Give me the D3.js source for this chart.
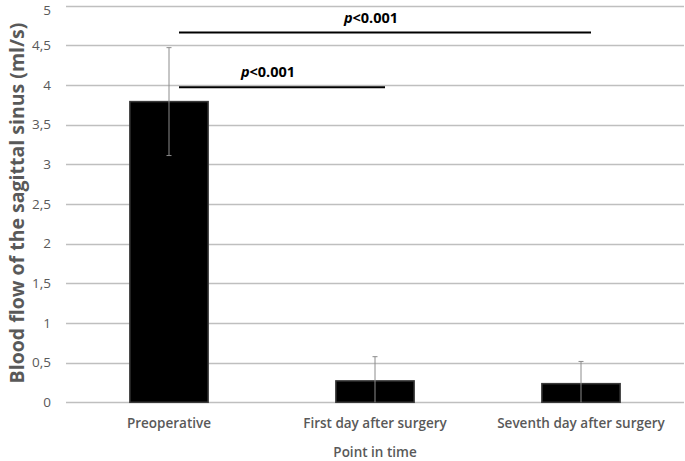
<!DOCTYPE html>
<html>
<head>
<meta charset="utf-8">
<script src="https://cdn.jsdelivr.net/npm/d3@7"></script>
<style>
  body { margin: 0; background: #fff; }
  text { font-family: "Open Sans", sans-serif; }
</style>
</head>
<body>
<svg id="chart" width="685" height="461"></svg>
<script>
var WIDTH = 685, HEIGHT = 461;

// data
var categories = ["Preoperative", "First day after surgery", "Seventh day after surgery"];
var means = [3.79, 0.27, 0.235];
var errors = [0.68, 0.305, 0.28];
var yTicks = [0, 0.5, 1, 1.5, 2, 2.5, 3, 3.5, 4, 4.5, 5];
var brackets = [
    {from: 0, to: 1, level: 3.97, label: "<0.001"},
    {from: 0, to: 2, level: 4.66, label: "<0.001"}
];

var svg = d3.select("#chart");

var x = d3.scaleBand()
    .domain(categories)
    .range([66, 684])
    .paddingInner(0.62)
    .paddingOuter(0.31);

var y = d3.scaleLinear()
    .domain([0, 5])
    .range([402.3, 5.6]);

// gridlines
svg.append("g")
    .selectAll("line")
    .data(yTicks)
    .enter().append("line")
    .attr("x1", 66).attr("x2", 684)
    .attr("y1", function (d) { return Math.round(y(d)) + 0.5; })
    .attr("y2", function (d) { return Math.round(y(d)) + 0.5; })
    .style("stroke", "#bfbfbf")
    .style("stroke-width", 1.3);

// y tick labels (top one nudged so it stays inside the picture)
svg.append("g")
    .selectAll("text")
    .data(yTicks)
    .enter().append("text")
    .attr("x", 51)
    .attr("y", function (d) { return Math.max(y(d), 10); })
    .attr("dy", "0.36em")
    .attr("text-anchor", "end")
    .style("font-size", "13.5px")
    .style("fill", "#595959")
    .text(function (d) { return String(d).replace(".", ","); });

// bars
svg.append("g")
    .selectAll("rect")
    .data(means)
    .enter().append("rect")
    .attr("x", function (d, i) { return x(categories[i]); })
    .attr("width", x.bandwidth())
    .attr("y", function (d) { return y(d); })
    .attr("height", function (d) { return y(0) - y(d); })
    .style("fill", "#000")
    .style("stroke", "#3a3a3a")
    .style("stroke-width", 1.5);

// error bars
var err = svg.append("g")
    .selectAll("g")
    .data(means)
    .enter().append("g")
    .attr("transform", function (d, i) {
        return "translate(" + (x(categories[i]) + x.bandwidth() / 2) + ",0)";
    });

err.append("line")
    .attr("y1", function (d, i) { return y(Math.max(0, d - errors[i])); })
    .attr("y2", function (d, i) { return y(d + errors[i]); })
    .style("stroke", "#8c8c8c")
    .style("stroke-width", 1);

err.append("line")
    .attr("x1", -2.5).attr("x2", 2.5)
    .attr("y1", function (d, i) { return y(d + errors[i]); })
    .attr("y2", function (d, i) { return y(d + errors[i]); })
    .style("stroke", "#8c8c8c")
    .style("stroke-width", 1);

err.filter(function (d, i) { return d - errors[i] > 0; })
    .append("line")
    .attr("x1", -2.5).attr("x2", 2.5)
    .attr("y1", function (d, i) { return y(d - errors[i]); })
    .attr("y2", function (d, i) { return y(d - errors[i]); })
    .style("stroke", "#8c8c8c")
    .style("stroke-width", 1);

// significance brackets
var br = svg.append("g")
    .selectAll("g")
    .data(brackets)
    .enter().append("g");

br.append("line")
    .attr("x1", function (d) { return x(categories[d.from]) + x.bandwidth() / 2 + 10; })
    .attr("x2", function (d) { return x(categories[d.to]) + x.bandwidth() / 2 + 10; })
    .attr("y1", function (d) { return y(d.level); })
    .attr("y2", function (d) { return y(d.level); })
    .style("stroke", "#000")
    .style("stroke-width", 2);

br.append("text")
    .attr("x", function (d) {
        return (x(categories[d.from]) + x(categories[d.to]) + x.bandwidth()) / 2 - 4;
    })
    .attr("y", function (d) { return y(d.level) - 10; })
    .attr("text-anchor", "middle")
    .style("font-size", "14.5px")
    .style("font-weight", "bold")
    .style("fill", "#000")
    .each(function (d) {
        var t = d3.select(this);
        t.append("tspan").style("font-style", "italic").text("p");
        t.append("tspan").text(d.label);
    });

// category labels
svg.append("g")
    .selectAll("text")
    .data(categories)
    .enter().append("text")
    .attr("x", function (d) { return x(d) + x.bandwidth() / 2; })
    .attr("y", 428)
    .attr("text-anchor", "middle")
    .style("font-size", "13.5px")
    .style("font-weight", 600)
    .style("fill", "#595959")
    .text(function (d) { return d; });

// axis titles
svg.append("text")
    .attr("x", 375)
    .attr("y", 457)
    .attr("text-anchor", "middle")
    .style("font-size", "13.5px")
    .style("font-weight", 600)
    .style("fill", "#595959")
    .text("Point in time");

svg.append("text")
    .attr("transform", "translate(24,203) rotate(-90)")
    .attr("text-anchor", "middle")
    .style("font-size", "19.5px")
    .style("font-weight", "bold")
    .style("fill", "#595959")
    .text("Blood flow of the sagittal sinus (ml/s)");
</script>
</body>
</html>
